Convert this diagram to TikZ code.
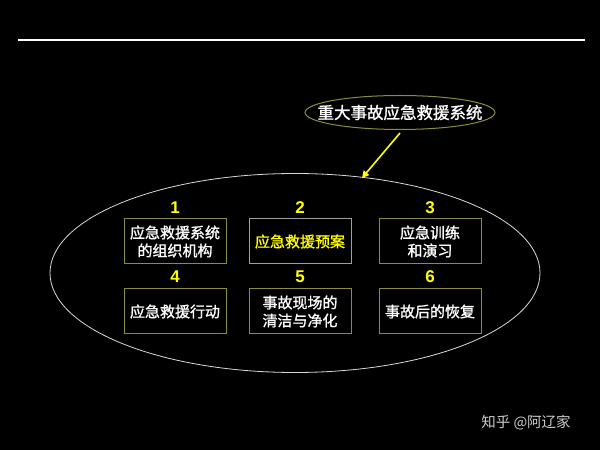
\documentclass[tikz,border=0pt]{standalone}
\usepackage{fontspec}
\newfontfamily\cjk[FakeBold=1.2]{Noto Sans CJK SC}
\newfontfamily\cjkplain{Noto Sans CJK SC}
\setsansfont{Liberation Sans}
\usetikzlibrary{shapes.geometric,arrows.meta}
\definecolor{olive}{HTML}{8C8C3C}
\definecolor{boxgray}{HTML}{A0A0A0}
\definecolor{yel}{HTML}{FFFF00}
\begin{document}
\begin{tikzpicture}[x=1pt,y=1pt,
  itembox/.style={draw=olive,line width=1pt,minimum width=102pt,minimum height=45pt,
    text=white,font=\cjk\fontsize{15}{18}\selectfont,align=center,inner sep=0pt},
  numlbl/.style={text=yel,font=\sffamily\bfseries\fontsize{17}{17}\selectfont,inner sep=0pt}]
\fill[black] (0,0) rectangle (600,450);
\useasboundingbox (0,0) rectangle (600,450);
\coordinate (lineL) at (18,410);
\coordinate (lineR) at (585,410);
\draw[white,line width=1.6pt] (lineL) -- (lineR);
\node[ellipse,draw=olive,line width=1pt,minimum width=190pt,minimum height=34pt,inner sep=0pt] (sys) at (400,337.5) {};
\node[text=white,font=\cjk\fontsize{16.5}{18}\selectfont,inner sep=0pt] (systxt) at (sys.center) {重大事故应急救援系统};
\node[ellipse,draw=white!85!black,line width=0.8pt,minimum width=490pt,minimum height=199pt,inner sep=0pt] (big) at (295,177) {};
\coordinate (tip) at (362,272);
\draw[yel,line width=1.6pt,-{Triangle[length=7pt,width=7pt]}] (sys.south) ++(0,-3) coordinate (as) (as) -- (tip);
\node[itembox] (b1) at (175,208.5) {应急救援系统\\的组织机构};
\node[itembox,draw=boxgray,text=yel] (b2) at (300,208.5) {应急救援预案};
\node[itembox] (b3) at (430,208.5) {应急训练\\和演习};
\node[itembox] (b4) at (175,138.5) {应急救援行动};
\node[itembox] (b5) at (300,138.5) {事故现场的\\清洁与净化};
\node[itembox] (b6) at (430,138.5) {事故后的恢复};
\node[numlbl] (n1) at (175,242) {1};
\node[numlbl] (n2) at (300,242) {2};
\node[numlbl] (n3) at (430,242) {3};
\node[numlbl] (n4) at (175,173) {4};
\node[numlbl] (n5) at (300,173) {5};
\node[numlbl] (n6) at (430,173) {6};
\node[text=white!80!black,font=\cjkplain\fontsize{14.5}{14}\selectfont,inner sep=0pt] (wm) at (526,27) {知乎 @阿辽家};
\end{tikzpicture}
\end{document}
